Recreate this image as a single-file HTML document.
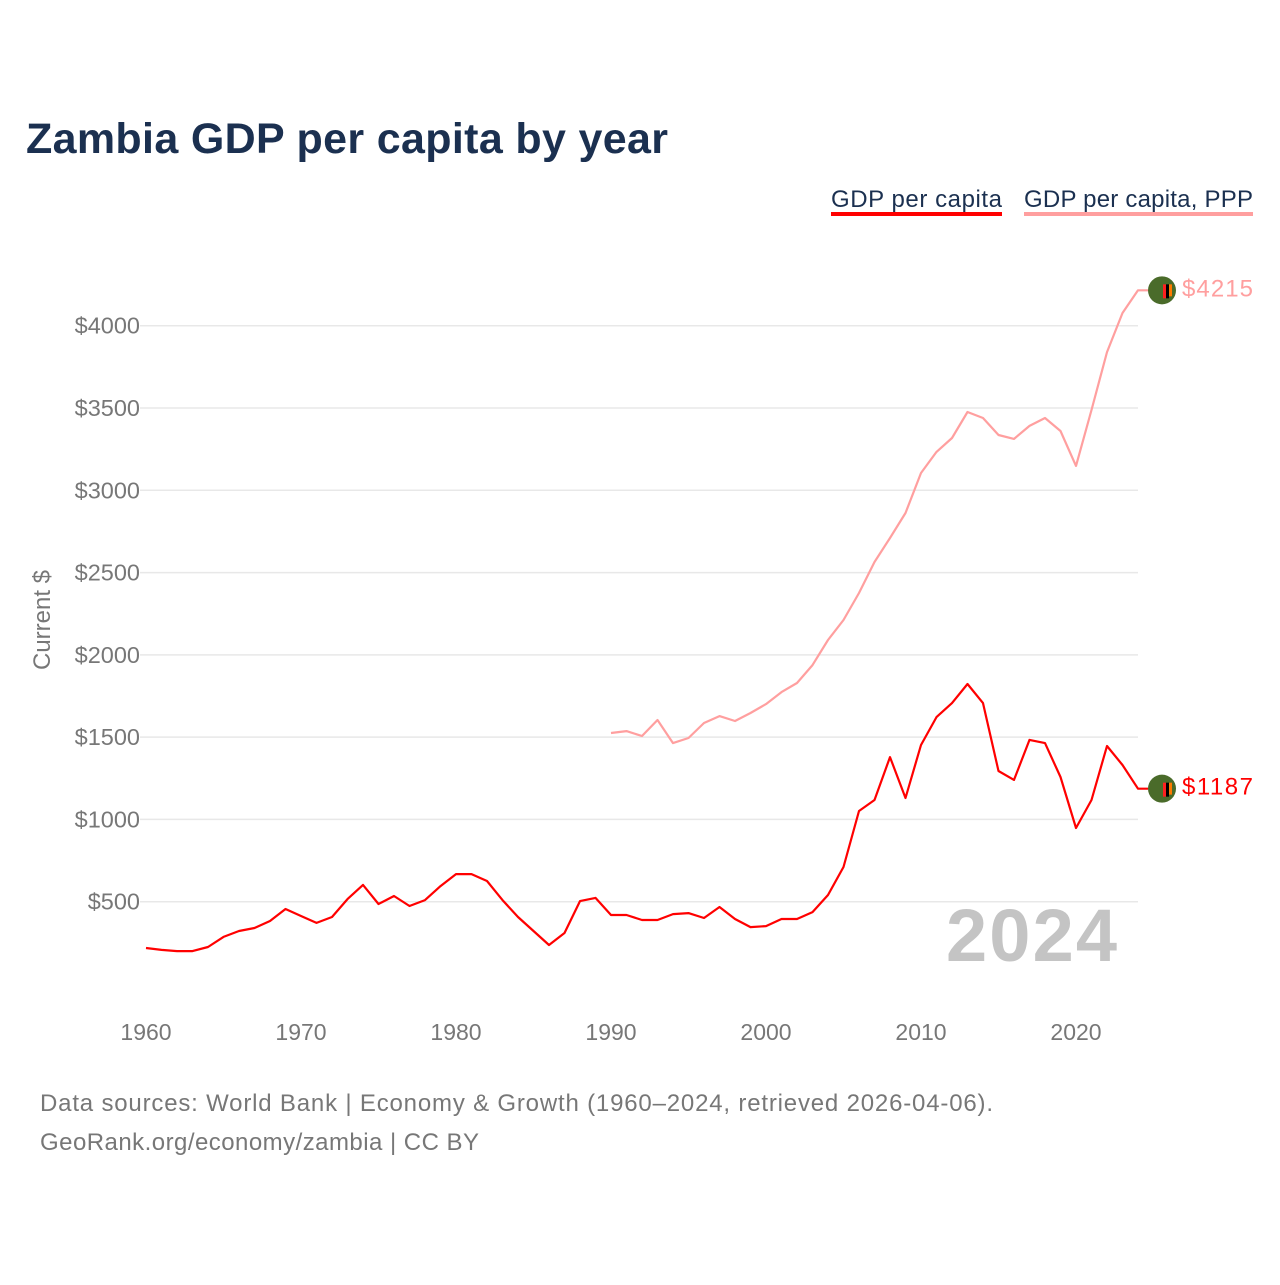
<!DOCTYPE html>
<html><head><meta charset="utf-8"><style>
body{margin:0;background:#fff;width:1280px;height:1280px;overflow:hidden;font-family:"Liberation Sans",sans-serif}
</style></head><body>
<svg width="1280" height="1280" xmlns="http://www.w3.org/2000/svg">
<text x="26" y="153" font-size="43" font-weight="bold" fill="#1b3050" textLength="642">Zambia GDP per capita by year</text>
<g>
<text x="831" y="207" font-size="24" fill="#1b3050" textLength="171">GDP per capita</text>
<rect x="831" y="212" width="171" height="4" fill="#ff0000"/>
<text x="1024" y="207" font-size="24" fill="#1b3050" textLength="229">GDP per capita, PPP</text>
<rect x="1024" y="212" width="229" height="4" fill="#ff9f9f"/>
</g>
<g id="grid"></g>
<g id="yt"></g>
<g id="xt"></g>
<text transform="translate(50,620) rotate(-90)" text-anchor="middle" font-size="24" fill="#777">Current $</text>
<text x="1117" y="961" text-anchor="end" font-size="74" font-weight="bold" fill="#c4c4c4" textLength="171">2024</text>
<g id="lines"></g>
<text x="40" y="1111" font-size="24" fill="#777" textLength="953">Data sources: World Bank | Economy &amp; Growth (1960–2024, retrieved 2026-04-06).</text>
<text x="40" y="1150" font-size="24" fill="#777" textLength="439">GeoRank.org/economy/zambia | CC BY</text>
</svg>
<script>
const years=[];for(let y=1960;y<=2024;y++)years.push(y);
const gdp=[219,207,200,200,225,286,322,340,383,456,413,371,407,516,602,486,535,474,510,595,668,668,626,510,407,322,237,310,504,523,419,419,389,389,425,431,401,468,395,346,352,395,395,437,541,711,1051,1118,1379,1130,1452,1622,1707,1823,1707,1294,1240,1483,1464,1258,948,1118,1446,1331,1187];
const pppYears=[];for(let y=1990;y<=2024;y++)pppYears.push(y);
const ppp=[1525,1537,1507,1604,1464,1495,1586,1628,1598,1647,1701,1774,1829,1938,2090,2212,2376,2564,2710,2862,3105,3233,3318,3476,3439,3336,3312,3391,3439,3360,3148,3488,3840,4077,4215];
const yTicks=[500,1000,1500,2000,2500,3000,3500,4000];
const xTicks=[1960,1970,1980,1990,2000,2010,2020];
const NS="http://www.w3.org/2000/svg";
const X=y=>146+(y-1960)*15.5;
const Y=v=>984-v*0.16457;
function mk(t,a,p){const e=document.createElementNS(NS,t);for(const k in a)e.setAttribute(k,a[k]);(p||document.querySelector('svg')).appendChild(e);return e;}
const grid=document.getElementById('grid'),yt=document.getElementById('yt'),xt=document.getElementById('xt'),L=document.getElementById('lines');
yTicks.forEach(v=>{
 const l=mk('line',{x1:140,x2:1138,y1:Y(v),y2:Y(v),stroke:'#e8e8e8','stroke-width':1.5},grid);
 
 
 const t=mk('text',{x:140,y:Y(v)+8,'text-anchor':'end','font-size':23.5,fill:'#777'},yt);t.textContent='$'+v;
 
 
});
xTicks.forEach(v=>{
 const t=mk('text',{x:X(v),y:1040,'text-anchor':'middle','font-size':23,fill:'#777'},xt);t.textContent=v;
 
 
});
function series(xs,vs,color,name){
 const d=xs.map((x,i)=>(i?'L':'M')+X(x).toFixed(1)+','+Y(vs[i]).toFixed(1)).join(' ')+' L'+(X(2024)+10)+','+Y(vs[vs.length-1]).toFixed(1);
 const p=mk('path',{d:d,fill:'none',stroke:color,'stroke-width':2.2,'stroke-linejoin':'round'},L);
 
 
 const cy=Y(vs[vs.length-1]),cx=1162;
 const g=mk('g',{},L);
 
 
 mk('circle',{cx:cx,cy:cy,r:14,fill:'#4a6b2a'},g);
 mk('rect',{x:cx+1,y:cy-6,width:3,height:14,fill:'#ff2020'},g);
 mk('rect',{x:cx+4,y:cy-6,width:3,height:14,fill:'#000'},g);
 mk('rect',{x:cx+7,y:cy-6,width:3,height:12,fill:'#ff7a00'},g);
 const t=mk('text',{x:1182,y:cy+6,'font-size':24,fill:color,textLength:71},L);t.textContent='$'+vs[vs.length-1];
 
 
}
series(pppYears,ppp,'#ff9f9f','ppp');
series(years,gdp,'#ff0000','gdp');
</script>
</body></html>
